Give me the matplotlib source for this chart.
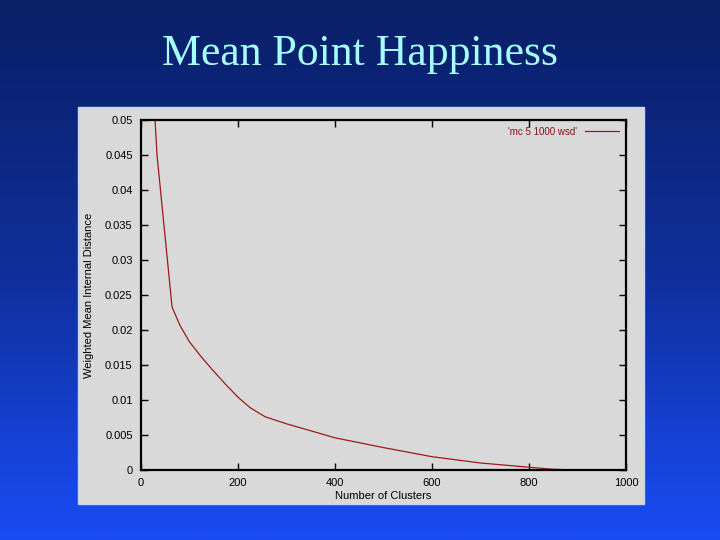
import numpy as np
import matplotlib
matplotlib.use("Agg")
import matplotlib.pyplot as plt
from matplotlib.colors import LinearSegmentedColormap

# Data
clusters = [25, 33, 64, 80, 100, 125, 150, 175, 200, 225, 256, 300, 400, 500, 600, 700, 800, 850, 900, 950, 1000]
distance = [0.055, 0.045, 0.0233, 0.0207, 0.0183, 0.0161, 0.0141, 0.0122, 0.0104, 0.0089, 0.0076, 0.0066, 0.0046, 0.0032, 0.0019, 0.0010, 0.0004, 0.0001, 0.0, 0.0, 0.0]
xticks = [0, 200, 400, 600, 800, 1000]
yticks = [0, 0.005, 0.01, 0.015, 0.02, 0.025, 0.03, 0.035, 0.04, 0.045, 0.05]
ytick_labels = ["0", "0.005", "0.01", "0.015", "0.02", "0.025", "0.03", "0.035", "0.04", "0.045", "0.05"]

plt.rcParams["font.family"] = ["Liberation Sans", "DejaVu Sans"]

fig = plt.figure(figsize=(7.2, 5.4), dpi=100)

# Background gradient
bg = fig.add_axes([0, 0, 1, 1])
cmap = LinearSegmentedColormap.from_list("bg", ["#0a1f66", "#0f2f9a", "#1a4cf5"])
grad = np.linspace(0, 1, 256).reshape(-1, 1)
bg.imshow(grad, aspect="auto", cmap=cmap, extent=[0, 1, 0, 1], origin="upper")
bg.set_xlim(0, 1)
bg.set_ylim(0, 1)
bg.axis("off")

# Title
fig.text(0.5, 0.900, "Mean Point Happiness", ha="center", va="center",
         fontsize=31.5, family="Liberation Serif", color="#a6ffff")

# Gray panel
panel = plt.Rectangle((78 / 720, 1 - 504 / 540), (644 - 78) / 720, (504 - 107) / 540,
                      transform=fig.transFigure, facecolor="#d9d9d9",
                      edgecolor="#c8d4f0", linewidth=1.0, zorder=1)
bg.add_patch(panel)

ax = fig.add_axes([141 / 720, 1 - 470 / 540, 485 / 720, 350 / 540])
ax.set_facecolor("none")
ax.plot(clusters, distance, color="#a01818", linewidth=0.9, label="'mc 5 1000 wsd'")
ax.set_xlim(0, 1000)
ax.set_ylim(0, 0.05)
ax.set_xticks(xticks)
ax.set_yticks(yticks)
ax.set_yticklabels(ytick_labels)
ax.tick_params(direction="in", top=True, right=True, length=5, width=1,
               labelsize=8, colors="black", pad=6)
for s in ax.spines.values():
    s.set_linewidth(1.6)
ax.set_xlabel("Number of Clusters", fontsize=8, labelpad=2)
ax.set_ylabel("Weighted Mean Internal Distance", fontsize=8, labelpad=8)
leg = ax.legend(loc="upper right", frameon=False, fontsize=7, markerfirst=False,
                handlelength=3.5, borderaxespad=0.3)
for t in leg.get_texts():
    t.set_color("#8b1010")

fig.savefig("out.png", dpi=100)
